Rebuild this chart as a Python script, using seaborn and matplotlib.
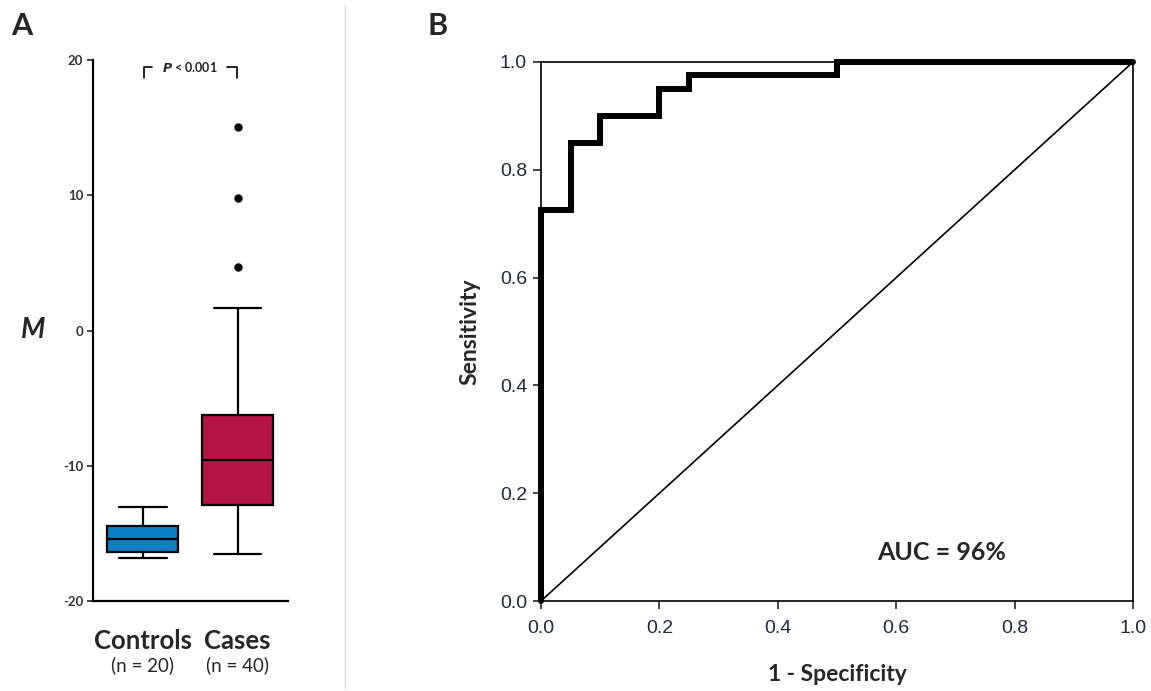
import matplotlib
matplotlib.use("Agg")
import matplotlib.pyplot as plt
import seaborn as sns
import pandas as pd
import numpy as np

sns.set_theme(style="white")
plt.rcParams['font.family'] = ['Lato', 'DejaVu Sans']

# ---- Panel A data (five-number summaries) ----
groups = ["Controls", "Cases"]
group_n = ["(n = 20)", "(n = 40)"]
whisker_low = [-16.8, -16.55]
q1 = [-16.35, -12.9]
median = [-15.4, -9.6]
q3 = [-14.45, -6.25]
whisker_high = [-13.05, 1.65]
outliers = [[], [4.7, 9.8, 15.05]]
box_colors = ["#0A80C4", "#B31444"]
a_yticks = [20, 10, 0, -10, -20]

# ---- Panel B data (ROC curve) ----
fpr = [0.0, 0.0, 0.05, 0.10, 0.20, 0.25, 0.50, 1.0]
tpr = [0.0, 0.725, 0.85, 0.90, 0.95, 0.975, 1.0, 1.0]
diag_x = [0.0, 1.0]
diag_y = [0.0, 1.0]
b_ticks = [0.0, 0.2, 0.4, 0.6, 0.8, 1.0]
auc_text = "AUC = 96%"

W, H = 1151, 691
fig = plt.figure(figsize=(W / 100, H / 100), dpi=100)

def fx(px):
    return px / W

def fy(py):
    return 1 - py / H

# ================= Panel A =================
axA = fig.add_axes([fx(93), fy(601), fx(288) - fx(93), fy(60) - fy(601)])
stats = []
for i in range(len(groups)):
    stats.append(dict(med=median[i], q1=q1[i], q3=q3[i],
                      whislo=whisker_low[i], whishi=whisker_high[i],
                      fliers=outliers[i], label=groups[i]))
bp = axA.bxp(stats, positions=[0, 1], widths=0.75, patch_artist=True,
             showfliers=True,
             boxprops=dict(linewidth=1.6, edgecolor="black"),
             medianprops=dict(color="black", linewidth=1.6),
             whiskerprops=dict(color="black", linewidth=1.6),
             capprops=dict(color="black", linewidth=1.6),
             capwidths=0.5,
             flierprops=dict(marker="o", markerfacecolor="black",
                             markeredgecolor="black", markersize=5))
for patch, c in zip(bp["boxes"], box_colors):
    patch.set_facecolor(c)

axA.set_xlim(-0.525, 1.53)
axA.set_ylim(-20, 20)
axA.set_yticks(a_yticks)
axA.set_yticklabels([str(t) for t in a_yticks])
axA.tick_params(axis="y", direction="out", length=4, width=1.2, pad=3,
                labelsize=9.5, labelcolor="#333333", left=True)
axA.set_xticks([])
sns.despine(ax=axA)
for sp in ["left", "bottom"]:
    axA.spines[sp].set_linewidth(1.6)
    axA.spines[sp].set_color("black")
for lab in axA.get_yticklabels():
    lab.set_fontweight("bold")

for i, (g, n) in enumerate(zip(groups, group_n)):
    axA.text(i, -22.05, g, ha="center", va="top", fontsize=18.5,
             fontweight="bold", transform=axA.transData, clip_on=False)
    axA.text(i, -24.1, n, ha="center", va="top", fontsize=13.5,
             transform=axA.transData, clip_on=False)

# significance bracket
yb, yt = 18.7, 19.45
axA.plot([0.01, 0.01, 0.10], [yb, yt, yt], color="black", lw=1.2, clip_on=False)
axA.plot([0.89, 0.99, 0.99], [yt, yt, yb], color="black", lw=1.2, clip_on=False)
axA.text(0.5, yt, r"$\boldsymbol{P}$ < 0.001", ha="center", va="center",
         fontsize=9, fontweight="bold")

fig.text(fx(33), fy(330), "M", fontsize=20, fontweight="bold",
         fontstyle="italic", ha="center", va="center")
fig.text(fx(22), fy(26), "A", fontsize=22, fontweight="bold",
         ha="center", va="center")

# separator
fig.add_artist(plt.Line2D([fx(345), fx(345)], [fy(688), fy(5)],
                          color="#d9d9d9", lw=1.0))

# ================= Panel B =================
axB = fig.add_axes([fx(541), fy(601), fx(1133) - fx(541), fy(62) - fy(601)])
roc = pd.DataFrame({"fpr": fpr, "tpr": tpr})
sns.lineplot(data=roc, x="fpr", y="tpr", ax=axB, estimator=None, sort=False,
             drawstyle="steps-post", color="black", lw=4.3, clip_on=False,
             solid_joinstyle="miter", zorder=5)
diag = pd.DataFrame({"x": diag_x, "y": diag_y})
sns.lineplot(data=diag, x="x", y="y", ax=axB, estimator=None, sort=False,
             color="black", lw=1.2, zorder=4)
axB.set_xlim(0, 1)
axB.set_ylim(0, 1)
axB.set_xticks(b_ticks)
axB.set_yticks(b_ticks)
axB.set_xticklabels([f"{t:.1f}" for t in b_ticks])
axB.set_yticklabels([f"{t:.1f}" for t in b_ticks])
for sp in axB.spines.values():
    sp.set_linewidth(1.2)
    sp.set_color("black")
axB.tick_params(axis="both", direction="out", length=6, width=1.2,
                labelsize=14, labelcolor="#23293a", left=True, bottom=True,
                pad=4)
axB.tick_params(axis="x", pad=8)
for lab in axB.get_xticklabels() + axB.get_yticklabels():
    lab.set_family(["Liberation Sans Narrow", "Liberation Sans", "DejaVu Sans"])
axB.set_xlabel("1 - Specificity", fontsize=16.5, fontweight="bold", labelpad=19)
axB.set_ylabel("Sensitivity", fontsize=16.5, fontweight="bold", labelpad=14)
axB.text(0.676, 0.09, auc_text, fontsize=18, fontweight="bold",
         ha="center", va="center", transform=axB.transData)
fig.text(fx(438), fy(26), "B", fontsize=22, fontweight="bold",
         ha="center", va="center")

fig.savefig("out.png", dpi=100)
